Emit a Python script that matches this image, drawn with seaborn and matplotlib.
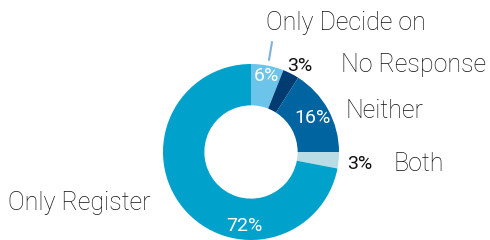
import matplotlib
matplotlib.use("Agg")
import matplotlib.pyplot as plt
import seaborn as sns

sns.set_style("white")
plt.rcParams['font.family'] = ['Roboto', 'DejaVu Sans']

# data
categories = ["Only Decide on", "No Response", "Neither", "Both", "Only Register"]
shares = [6, 3, 16, 3, 72]
pct_labels = ["6%", "3%", "16%", "3%", "72%"]
colors = ["#6CC4EA", "#003B71", "#0064A1", "#B9DDE5", "#00A1CB"]

fig = plt.figure(figsize=(4.9, 2.4), dpi=100)
ax = fig.add_axes([163 / 490, 0 / 240, 176 / 490, 176 / 240])

ax.pie(shares, colors=colors, startangle=90, counterclock=False,
       wedgeprops=dict(width=0.47, edgecolor="none"))
ax.set_xlim(-1, 1)
ax.set_ylim(-1, 1)
ax.axis("off")


def px(x, y):
    # pixel position in the picture -> data coords of the donut
    return (x - 251) / 88, (152 - y) / 88


# percent labels: (x, y, colour)
pct_pos = [(266, 76, "white"), (300, 66, "#111111"), (313, 118, "white"),
           (360, 164, "#111111"), (244, 226, "white")]
for lab, (x, y, c) in zip(pct_labels, pct_pos):
    dx, dy = px(x, y)
    ax.text(dx, dy, lab, color=c, fontsize=14, ha="center", va="center",
            fontweight="normal", clip_on=False)

# category labels
cat_pos = [(266, 23), (341, 65), (346, 111), (394, 164), (8, 203)]
for lab, (x, y) in zip(categories, cat_pos):
    dx, dy = px(x, y)
    ax.text(dx, dy, lab, color="#111111", fontsize=18, ha="left", va="center",
            fontweight="light", clip_on=False)

# leader line for "Only Decide on"
x0, y0 = px(272, 42)
x1, y1 = px(269, 60)
ax.plot([x0, x1], [y0, y1], color="#7FB2D9", lw=1.5, clip_on=False)

fig.savefig("out.png", dpi=100)
